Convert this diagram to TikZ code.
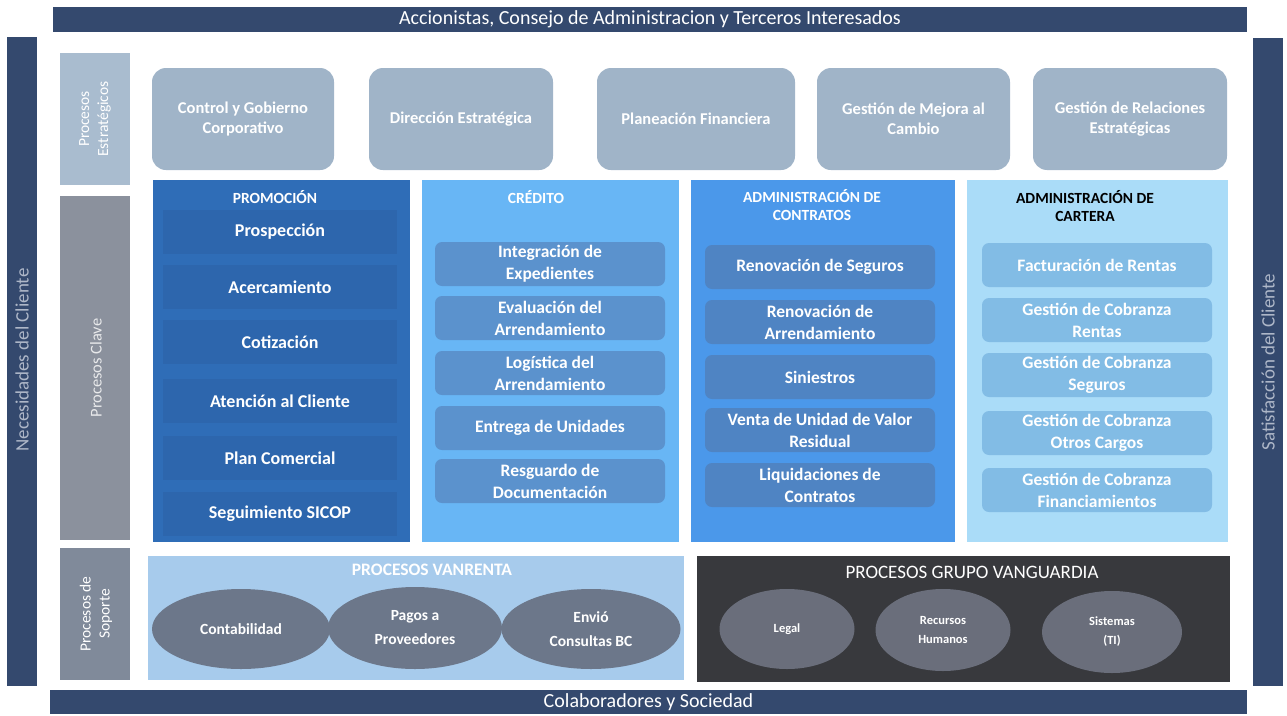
\documentclass[tikz,border=0pt]{standalone}
\usepackage{fontspec}
\setmainfont{Carlito}
\usetikzlibrary{shapes.geometric}
\definecolor{navy}{HTML}{34496E}
\definecolor{navytext}{HTML}{AEB7C8}
\definecolor{lblstrat}{HTML}{A9BCCF}
\definecolor{lblclave}{HTML}{8B919D}
\definecolor{lblsop}{HTML}{808A9A}
\definecolor{stratbox}{HTML}{A0B4C8}
\definecolor{promocol}{HTML}{2F6DB7}
\definecolor{promoband}{HTML}{2D66AD}
\definecolor{credcol}{HTML}{68B6F5}
\definecolor{credbox}{HTML}{5B92CD}
\definecolor{contcol}{HTML}{4B98EA}
\definecolor{contbox}{HTML}{4F84C3}
\definecolor{cartcol}{HTML}{AADCF8}
\definecolor{cartbox}{HTML}{82BCE5}
\definecolor{vanbg}{HTML}{A7CBEC}
\definecolor{vanell}{HTML}{6C778A}
\definecolor{vgbg}{HTML}{38393D}
\definecolor{vgell}{HTML}{6A6E7B}
\begin{document}
\begin{tikzpicture}[x=1pt,y=-1pt,
  plain/.style={rectangle, inner sep=0pt, draw=none, align=center},
  banner/.style={plain, fill=navy, text=white, font=\fontsize{20}{22}\selectfont},
  sidebar/.style={plain, fill=navy, text=navytext, font=\fontsize{19}{21}\selectfont},
  lbl/.style={plain, text=white, font=\fontsize{15.5}{19}\selectfont},
  strat/.style={plain, fill=stratbox, rounded corners=14pt, minimum height=102pt, text=white, font=\bfseries\fontsize{16.5}{20}\selectfont},
  col/.style={plain, minimum height=362pt},
  hdr/.style={plain, text=white, font=\bfseries\fontsize{15.5}{18}\selectfont},
  band/.style={plain, fill=promoband, minimum width=234pt, minimum height=44pt, text=white, font=\bfseries\fontsize{18}{22}\selectfont},
  item/.style={plain, rounded corners=7pt, minimum width=230pt, minimum height=44pt, text=white, font=\bfseries\fontsize{17.5}{22}\selectfont},
  ell/.style={ellipse, inner sep=0pt, align=center, text=white, font=\bfseries\fontsize{15.5}{24}\selectfont},
  ellsm/.style={ellipse, inner sep=0pt, align=center, text=white, font=\bfseries\fontsize{12.5}{19}\selectfont}
]
\useasboundingbox (0,0) rectangle (1287,715);
\fill[white] (0,0) rectangle (1287,715);

% outer frame
\node[banner, minimum width=1194pt, minimum height=25pt] (top) at (650,19.5) {Accionistas, Consejo de Administracion y Terceros Interesados};
\node[banner, minimum width=1197pt, minimum height=24pt] (bottom) at (648.5,702) {Colaboradores y Sociedad};
\node[plain, fill=navy, minimum width=30pt, minimum height=649pt] (leftbar) at (22,361.5) {};
\node[sidebar, rotate=90] (lefttext) at (22,360) {Necesidades del Cliente};
\node[plain, fill=navy, minimum width=30pt, minimum height=648pt] (rightbar) at (1268,362) {};
\node[sidebar, rotate=90] (righttext) at (1268,362) {Satisfacción del Cliente};

% row labels
\node[plain, fill=lblstrat, minimum width=70pt, minimum height=132pt] (lstrat) at (95,119) {};
\node[lbl, rotate=90] (lstratT) at (95,119) {Procesos\\Estratégicos};
\node[plain, fill=lblclave, minimum width=70pt, minimum height=344pt] (lclave) at (95,368) {};
\node[lbl, rotate=90, text=white!80!lblclave, font=\fontsize{16.5}{19}\selectfont] (lclaveT) at (96,368) {Procesos Clave};
\node[plain, fill=lblsop, minimum width=70pt, minimum height=132pt] (lsop) at (95,614) {};
\node[lbl, rotate=90] (lsopT) at (96,614) {Procesos de\\Soporte};

% strategic processes
\node[strat, minimum width=182pt] (s1) at (243,119) {Control y Gobierno\\Corporativo};
\node[strat, minimum width=184pt] (s2) at (461,119) {Dirección Estratégica};
\node[strat, minimum width=198pt] (s3) at (696,119) {Planeación Financiera};
\node[strat, minimum width=193pt] (s4) at (913.5,119) {Gestión de Mejora al\\Cambio};
\node[strat, minimum width=194pt] (s5) at (1130,119) {Gestión de Relaciones\\Estratégicas};

% key process columns
\node[col, fill=promocol, minimum width=257pt] (promo) at (281.5,361) {};
\node[col, fill=credcol, minimum width=257pt] (cred) at (550.5,361) {};
\node[col, fill=contcol, minimum width=264pt] (cont) at (823,361) {};
\node[col, fill=cartcol, minimum width=261pt] (cart) at (1097.5,361) {};

\node[hdr] (promoH) at (275,197) {PROMOCIÓN};
\node[hdr] (credH) at (536,197) {CRÉDITO};
\node[hdr] (contH) at (812,205) {ADMINISTRACIÓN DE\\CONTRATOS};
\node[hdr, text=black] (cartH) at (1085,206) {ADMINISTRACIÓN DE\\CARTERA};

% Promocion
\node[band] (p1) at (280,232) {Prospección};
\node[band] (p2) at (280,287) {Acercamiento};
\node[band] (p3) at (280,342) {Cotización};
\node[band] (p4) at (280,401) {Atención al Cliente};
\node[band] (p5) at (280,458) {Plan Comercial};
\node[band] (p6) at (280,514) {Seguimiento SICOP};

% Credito
\node[item, fill=credbox] (c1) at (550,264) {Integración de\\Expedientes};
\node[item, fill=credbox] (c2) at (550,318) {Evaluación del\\Arrendamiento};
\node[item, fill=credbox] (c3) at (550,373) {Logística del\\Arrendamiento};
\node[item, fill=credbox] (c4) at (550,428) {Entrega de Unidades};
\node[item, fill=credbox] (c5) at (550,481) {Resguardo de\\Documentación};

% Administracion de contratos
\node[item, fill=contbox] (k1) at (820,267) {Renovación de Seguros};
\node[item, fill=contbox] (k2) at (820,322) {Renovación de\\Arrendamiento};
\node[item, fill=contbox] (k3) at (820,377) {Siniestros};
\node[item, fill=contbox] (k4) at (820,430) {Venta de Unidad de Valor\\Residual};
\node[item, fill=contbox] (k5) at (820,485) {Liquidaciones de\\Contratos};

% Administracion de cartera
\node[item, fill=cartbox] (a1) at (1097,265) {Facturación de Rentas};
\node[item, fill=cartbox] (a2) at (1097,320) {Gestión de Cobranza\\Rentas};
\node[item, fill=cartbox] (a3) at (1097,375) {Gestión de Cobranza\\Seguros};
\node[item, fill=cartbox] (a4) at (1097,433) {Gestión de Cobranza\\Otros Cargos};
\node[item, fill=cartbox] (a5) at (1097,490) {Gestión de Cobranza\\Financiamientos};

% support processes
\node[plain, fill=vanbg, minimum width=536pt, minimum height=124pt] (van) at (416,618) {};
\node[hdr, font=\bfseries\fontsize{17.5}{20}\selectfont] (vanH) at (432,570) {PROCESOS VANRENTA};
\node[ell, fill=vanell, minimum width=178pt, minimum height=80pt] (v1) at (241,629) {Contabilidad};
\node[ell, fill=vanell, minimum width=174pt, minimum height=82pt] (v2) at (415,628) {Pagos a\\Proveedores};
\node[ell, fill=vanell, minimum width=179pt, minimum height=80pt] (v3) at (591,629) {Envió\\Consultas BC};

\node[plain, fill=vgbg, minimum width=533pt, minimum height=126pt] (vg) at (963.5,619) {};
\node[hdr, font=\fontsize{19}{21}\selectfont] (vgH) at (972,572) {PROCESOS GRUPO VANGUARDIA};
\node[ellsm, fill=vgell, minimum width=135pt, minimum height=80pt] (g1) at (787,629) {Legal};
\node[ellsm, fill=vgell, minimum width=135pt, minimum height=82pt] (g2) at (943,630) {Recursos\\Humanos};
\node[ellsm, fill=vgell, minimum width=140pt, minimum height=82pt] (g3) at (1112,632) {Sistemas\\(TI)};
\end{tikzpicture}
\end{document}
